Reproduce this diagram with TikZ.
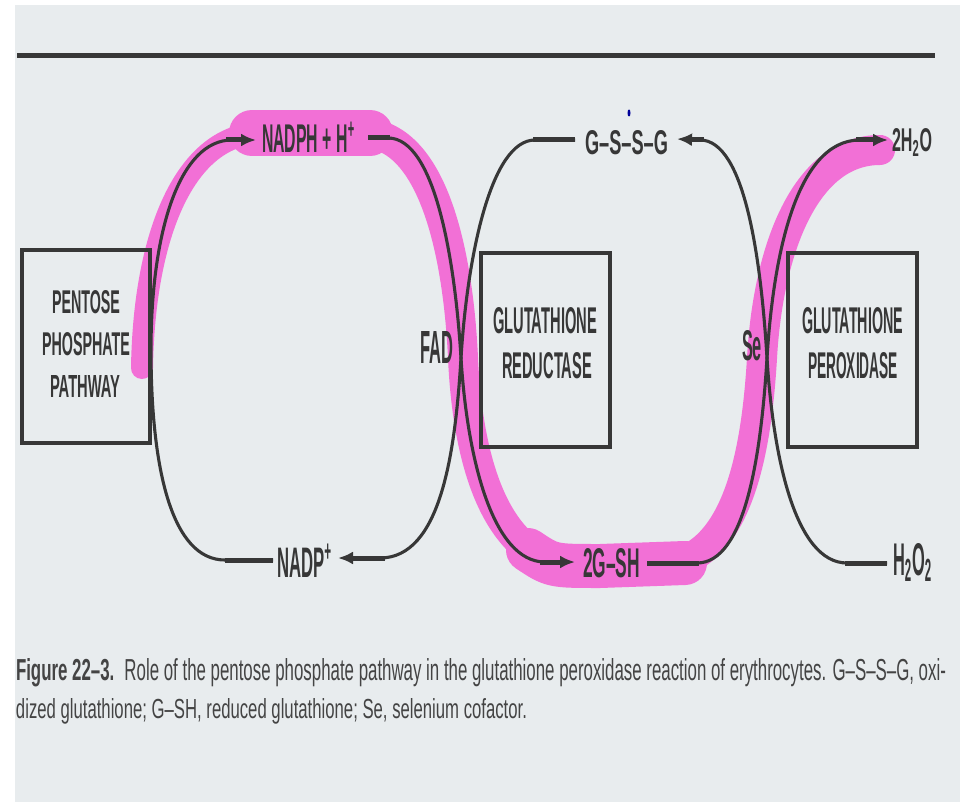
\documentclass[tikz,border=0pt]{standalone}
\usepackage{fontspec}
\setmainfont{Liberation Sans}
\usepackage{graphicx}
\usetikzlibrary{arrows.meta}
\definecolor{bg}{RGB}{232,236,238}
\definecolor{ink}{RGB}{55,55,55}
\definecolor{capink}{RGB}{68,68,68}
\definecolor{hl}{RGB}{242,112,214}
\newcommand{\fitto}[3]{\resizebox{#1pt}{#2pt}{#3}}
\tikzset{
  lbl/.style={inner sep=0pt, outer sep=0pt, text=ink, anchor=base west, font=\bfseries},
  boxnode/.style={draw=ink, line width=3.4pt, inner sep=0pt, outer sep=0pt, anchor=north west},
  curve/.style={draw=ink, line width=3.1pt},
  endseg/.style={draw=ink, line width=5pt},
  tip/.style={-{Latex[length=15pt,width=13pt]}},
  band/.style={draw=hl, line width=30pt, line cap=round, line join=round},
}
\begin{document}
\begin{tikzpicture}[x=1pt,y=-1pt]
\useasboundingbox (0,0) rectangle (960,802);
\fill[white] (0,0) rectangle (960,802);
\fill[bg] (15,5) rectangle (960,802);
% top rule
\draw[ink, line width=5pt] (17,56) -- (935,56);

% highlight band
\draw[band, line width=22pt] (142,368) .. controls (144,235) and (185,133) .. (262,133);
\draw[band] (262,133) -- (362,133)
  .. controls (432,133) and (458,250) .. (463,358)
  .. controls (468,470) and (500,566) .. (580,566) -- (655,566)
  .. controls (735,566) and (756,460) .. (762,358)
  .. controls (768,250) and (805,150) .. (880,150);
\draw[band, line width=46pt] (252,133) -- (370,133);
\draw[band, line width=44pt] (528,550) .. controls (552,566) .. (600,566) -- (685,563);

% boxes
\node[boxnode, minimum width=128pt, minimum height=193pt] (ppp) at (22,250) {};
\node[boxnode, minimum width=129pt, minimum height=194pt] (gr) at (481,253) {};
\node[boxnode, minimum width=129pt, minimum height=194pt] (gp) at (788,253) {};

% box texts
\node[lbl] (ppp1) at (52,313) {\fitto{68}{23}{PENTOSE}};
\node[lbl] (ppp2) at (42,355) {\fitto{88}{23}{PHOSPHATE}};
\node[lbl] (ppp3) at (50,397) {\fitto{70}{22}{PATHWAY}};
\node[lbl] (gr1) at (493,333) {\fitto{104}{26}{GLUTATHIONE}};
\node[lbl] (gr2) at (502,378) {\fitto{90}{26}{REDUCTASE}};
\node[lbl] (gp1) at (802,333) {\fitto{101}{26}{GLUTATHIONE}};
\node[lbl] (gp2) at (808,378) {\fitto{90}{26}{PEROXIDASE}};

% metabolite labels
\node[lbl] (nadph) at (262,153) {\fitto{93}{31}{NADPH + H\textsuperscript{+}}};
\node[lbl] (gssg) at (585,155) {\fitto{83}{24}{G–S–S–G}};
\node[lbl] (hho) at (892,152) {\fitto{40}{23}{2H\textsubscript{2}O}};
\node[lbl] (nadp) at (277,577) {\fitto{55}{33}{NADP\textsuperscript{+}}};
\node[lbl] (gsh) at (583,577) {\fitto{57}{29}{2G–SH}};
\node[lbl] (hhoo) at (893,575) {\fitto{39}{32}{H\textsubscript{2}O\textsubscript{2}}};
\node[lbl] (fad) at (420,363) {\fitto{33}{32}{FAD}};
\node[lbl] (se) at (742,360) {\fitto{20}{30}{Se}};

% stray ink mark
\fill[blue!60!black] (629,113) ellipse (1.5 and 3.5);

% curve E: NADP+ -> NADPH (around pentose box)
\draw[curve, tip] ([xshift=-4pt,yshift=17pt]nadp.base west) -- (225,560)
  .. controls (172,560) and (151,470) .. (151,350)
  .. controls (151,230) and (180,140) .. (232,140)
  -- ([xshift=-6pt,yshift=13pt]nadph.base west);
\draw[endseg] ([xshift=-4pt,yshift=17pt]nadp.base west) -- (225,560);
\draw[endseg] (226,140) -- (244,140);

% curve C: NADPH -> 2G-SH (through FAD)
\draw[curve, tip] ([xshift=13pt,yshift=15pt]nadph.base east) -- (388,138)
  .. controls (435,138) and (455,260) .. (461,358)
  .. controls (467,456) and (492,562) .. (545,562)
  -- ([xshift=-8pt,yshift=15pt]gsh.base west);
\draw[endseg] ([xshift=13pt,yshift=15pt]nadph.base east) -- (390,138);
\draw[endseg] (540,562) -- (562,562);

% curve D: G-S-S-G -> NADP+ (through FAD)
\draw[curve, tip] ([xshift=-10pt,yshift=15pt]gssg.base west) -- (535,140)
  .. controls (490,140) and (467,260) .. (461,358)
  .. controls (455,456) and (440,558) .. (380,558)
  -- ([xshift=6pt,yshift=19pt]nadp.base east);
\draw[endseg] ([xshift=-10pt,yshift=15pt]gssg.base west) -- (533,140);
\draw[endseg] (385,558) -- (350,558);

% curve A: 2G-SH -> 2H2O (through Se)
\draw[curve, tip] ([xshift=7pt,yshift=14pt]gsh.base east) -- (697,563)
  .. controls (745,563) and (761,456) .. (767,358)
  .. controls (773,260) and (795,140) .. (860,140)
  -- ([xshift=-4pt,yshift=12pt]hho.base west);
\draw[endseg] ([xshift=7pt,yshift=14pt]gsh.base east) -- (699,563);
\draw[endseg] (856,140) -- (876,140);

% curve B: H2O2 -> G-S-S-G (through Se)
\draw[curve, tip] ([xshift=-6pt,yshift=12pt]hhoo.base west) -- (847,563)
  .. controls (795,563) and (773,456) .. (767,358)
  .. controls (761,260) and (745,140) .. (700,140)
  -- ([xshift=9pt,yshift=16pt]gssg.base east);
\draw[endseg] ([xshift=-6pt,yshift=12pt]hhoo.base west) -- (845,563);
\draw[endseg] (704,140) -- (689,140);

% caption
\node[lbl, text=capink, font=\mdseries] (cap1) at (16,680) {\fitto{930}{22}{\textbf{Figure 22–3.}\hspace{0.6em}Role of the pentose phosphate pathway in the glutathione peroxidase reaction of erythrocytes. G–S–S–G, oxi-}};
\node[lbl, text=capink, font=\mdseries] (cap2) at (16,718) {\fitto{511}{20}{dized glutathione; G–SH, reduced glutathione; Se, selenium cofactor.}};
\end{tikzpicture}
\end{document}
